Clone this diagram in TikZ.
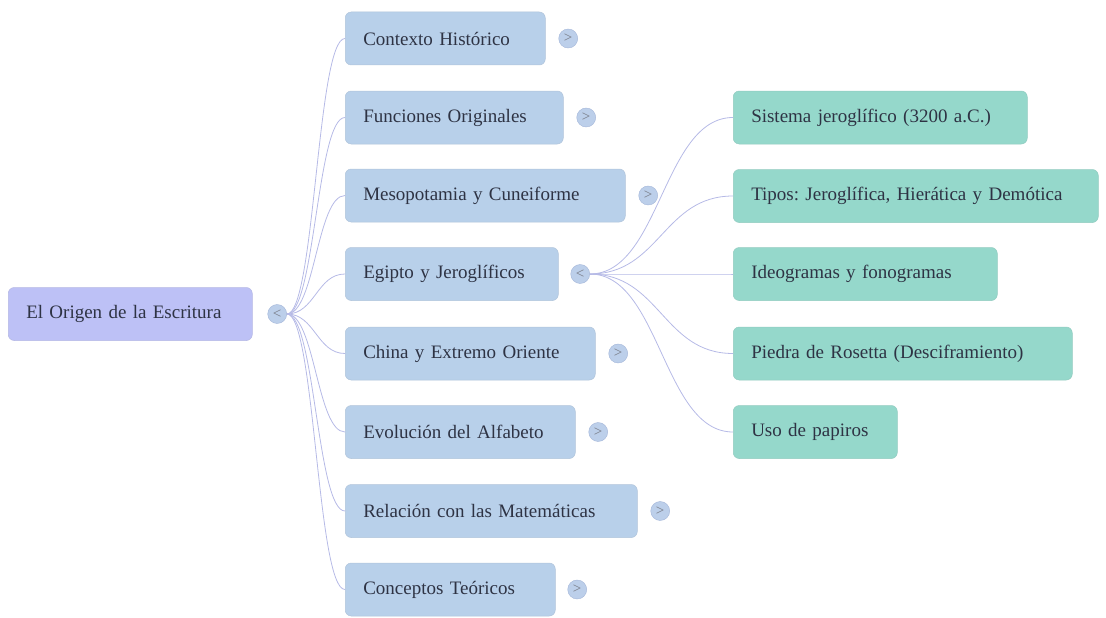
\documentclass[tikz,border=0pt]{standalone}
\usepackage{fontspec}
\setmainfont{Liberation Serif}
\usetikzlibrary{positioning}
\frenchspacing

\definecolor{rootfill}{HTML}{BDC1F6}
\definecolor{topicfill}{HTML}{B8D0EA}
\definecolor{leaffill}{HTML}{95D8CB}
\definecolor{linkcol}{HTML}{B6BAE6}
\definecolor{togglefill}{HTML}{BCCFEA}
\definecolor{toggleline}{HTML}{A3B5D8}
\definecolor{inkcol}{HTML}{2E3344}

\begin{document}
\begin{tikzpicture}[
    x=1pt, y=-1pt,
    every node/.style={font=\fontsize{19}{23}\selectfont, text=inkcol},
    box/.style={rectangle, rounded corners=6pt, minimum height=53pt, inner xsep=18pt, align=left, anchor=west, line width=0.5pt},
    rootbox/.style={box, fill=rootfill, draw=rootfill!85!gray},
    topic/.style={box, fill=topicfill, draw=topicfill!85!gray},
    leaf/.style={box, fill=leaffill, draw=leaffill!85!gray},
    toggle/.style={circle, draw=toggleline, fill=togglefill, minimum size=19pt, inner sep=0pt, font=\fontsize{15}{15}\selectfont, text=inkcol!65},
    branch/.style={draw=linkcol, line width=0.8pt},
    sweep/.style={to path={.. controls +(#1,0) and +(-#1,0) .. (\tikztotarget)}}
]
    \useasboundingbox (0,0) rectangle (1106,618);

    % 1. Root (left)
    \node[rootbox, text width=208pt] (root) at (8, 314) {El Origen de la Escritura};
    \node[toggle, right=15pt of root] (rootT) {<};

    % 2. Topics (middle column)
    \node[topic, text width=164pt] (ctx) at (345, 38.5) {Contexto Histórico};
    \node[topic, text width=182pt] (fun) at (345, 117.5) {Funciones Originales};
    \node[topic, text width=244pt] (meso) at (345, 195.5) {Mesopotamia y Cuneiforme};
    \node[topic, text width=177pt] (egy) at (345, 274) {Egipto y Jeroglíficos};
    \node[topic, text width=214pt] (chi) at (345, 353.5) {China y Extremo Oriente};
    \node[topic, text width=194pt] (alf) at (345, 432) {Evolución del Alfabeto};
    \node[topic, text width=256pt] (mat) at (345, 511) {Relación con las Matemáticas};
    \node[topic, text width=174pt] (teo) at (345, 589.5) {Conceptos Teóricos};

    \node[toggle, right=13pt of ctx] (ctxT) {>};
    \node[toggle, right=13pt of fun] (funT) {>};
    \node[toggle, right=13pt of meso] (mesoT) {>};
    \node[toggle, right=12pt of egy] (egyT) {<};
    \node[toggle, right=13pt of chi] (chiT) {>};
    \node[toggle, right=13pt of alf] (alfT) {>};
    \node[toggle, right=13pt of mat] (matT) {>};
    \node[toggle, right=12pt of teo] (teoT) {>};

    % 3. Egypt details (right column)
    \node[leaf, text width=258pt] (sis) at (733, 117.5) {Sistema jeroglífico (3200 a.C.)};
    \node[leaf, text width=329pt] (tip) at (733, 196) {Tipos: Jeroglífica, Hierática y Demótica};
    \node[leaf, text width=228pt] (ideo) at (733, 274) {Ideogramas y fonogramas};
    \node[leaf, text width=303pt] (ros) at (733, 353.5) {Piedra de Rosetta (Desciframiento)};
    \node[leaf, text width=128pt] (pap) at (733, 432) {Uso de papiros};

    % 4. Connections
    \draw[branch] (rootT.east) to[sweep=28] (ctx.west);
    \draw[branch] (rootT.east) to[sweep=28] (fun.west);
    \draw[branch] (rootT.east) to[sweep=28] (meso.west);
    \draw[branch] (rootT.east) to[sweep=28] (egy.west);
    \draw[branch] (rootT.east) to[sweep=28] (chi.west);
    \draw[branch] (rootT.east) to[sweep=28] (alf.west);
    \draw[branch] (rootT.east) to[sweep=28] (mat.west);
    \draw[branch] (rootT.east) to[sweep=28] (teo.west);

    \draw[branch] (egyT.east) to[sweep=70] (sis.west);
    \draw[branch] (egyT.east) to[sweep=70] (tip.west);
    \draw[branch] (egyT.east) to[sweep=70] (ideo.west);
    \draw[branch] (egyT.east) to[sweep=70] (ros.west);
    \draw[branch] (egyT.east) to[sweep=70] (pap.west);

\end{tikzpicture}
\end{document}
